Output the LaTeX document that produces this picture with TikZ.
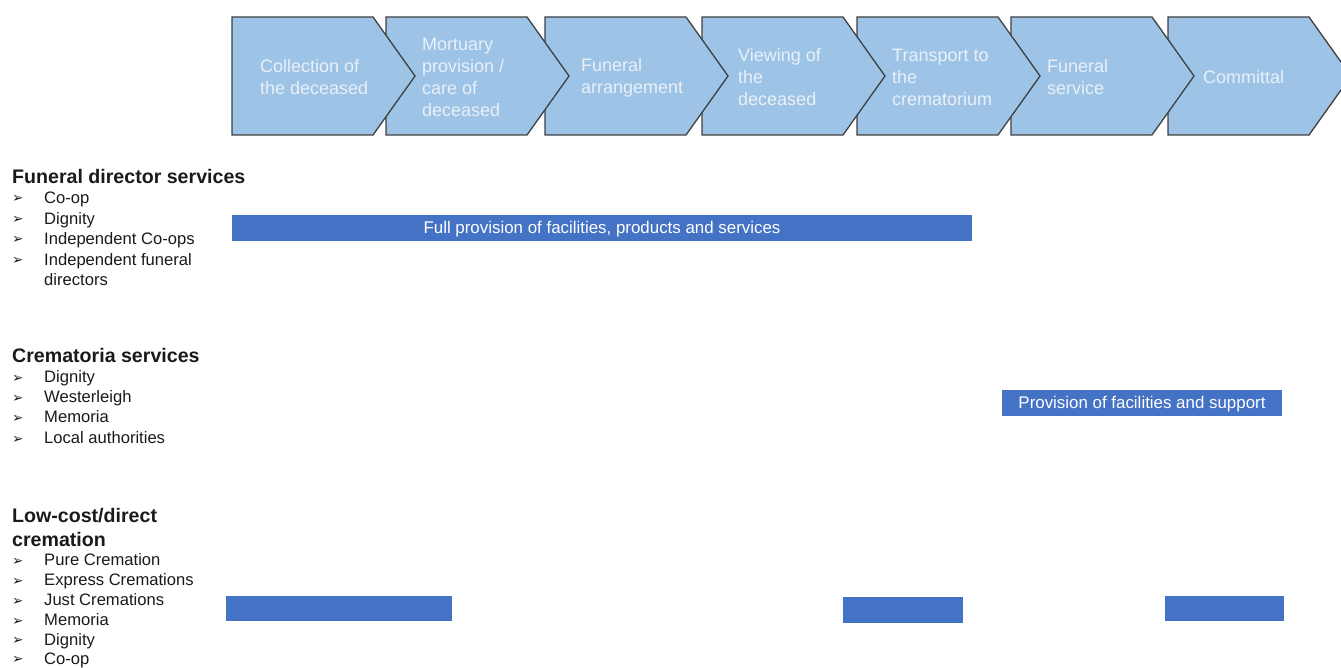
\documentclass[tikz,border=0pt]{standalone}
\usepackage{fontspec}
\setmainfont{Liberation Sans}
\newfontfamily\dejavu{DejaVu Sans}
\definecolor{chevfill}{HTML}{9DC3E6}
\definecolor{chevline}{HTML}{404040}
\definecolor{barblue}{HTML}{4472C4}
\definecolor{chevtext}{HTML}{EAF0F7}
\definecolor{bodytext}{HTML}{1A1A1A}
\begin{document}
\begin{tikzpicture}[x=1pt,y=-1pt,
  chev/.style={fill=chevfill,draw=chevline,line width=1.3pt,line join=miter},
  chevlabel/.style={anchor=west,align=left,text=chevtext,font=\fontsize{18}{22}\selectfont,inner sep=0pt},
  bar/.style={fill=barblue,draw=none,text=white,font=\fontsize{16.9}{20}\selectfont,inner sep=0pt,text height=14pt,text depth=2pt},
  heading/.style={anchor=base west,font=\bfseries\fontsize{19.6}{24}\selectfont,text=bodytext,inner sep=0pt},
  item/.style={anchor=base west,font=\fontsize{16.6}{20}\selectfont,text=bodytext,inner sep=0pt},
  bulletmark/.style={anchor=base west,font=\dejavu\bfseries\fontsize{13.5}{15}\selectfont,text=bodytext,inner sep=0pt}]
\useasboundingbox (0,0) rectangle (1341,668);
% chevrons, drawn right to left so each point lies over the next one
\foreach \x in {1168,1011,857,702,545,386,232}{
  \draw[chev] (\x,17) -- ++(141,0) -- ++(42,59) -- ++(-42,59) -- ++(-141,0) -- cycle;
}
\node[chevlabel] (c1) at (260,77.5) {Collection of\\the deceased};
\node[chevlabel] (c2) at (422,77.5) {Mortuary\\provision /\\care of\\deceased};
\node[chevlabel] (c3) at (581,77.5) {Funeral\\arrangement};
\node[chevlabel] (c4) at (738,77.5) {Viewing of\\the\\deceased};
\node[chevlabel] (c5) at (892,77.5) {Transport to\\the\\crematorium};
\node[chevlabel] (c6) at (1047,77.5) {Funeral\\service};
\node[chevlabel] (c7) at (1203,77.5) {Committal};
% bars
\node[bar,minimum width=740pt,minimum height=26pt] (b1) at (602,228) {Full provision of facilities, products and services};
\node[bar,minimum width=280pt,minimum height=26pt] (b2) at (1142,402.5) {Provision of facilities and support};
\node[bar,minimum width=226pt,minimum height=25pt] (b3) at (339,608.5) {};
\node[bar,minimum width=120pt,minimum height=26pt] (b4) at (903,610) {};
\node[bar,minimum width=119pt,minimum height=25pt] (b5) at (1224.5,608.5) {};
% left lists
\node[heading] (h1) at (12,184) {Funeral director services};
\foreach \n/\y/\t in {a/203.5/Co-op,b/224.5/Dignity,c/244.5/Independent Co-ops,d/265.5/Independent funeral}{
  \node[bulletmark] (fb\n) at (12,\y-0.5) {➢};
  \node[item] (fi\n) at (44,\y) {\t};
}
\node[item] (fie) at (44,285.5) {directors};
\node[heading] (h2) at (12,362) {Crematoria services};
\foreach \n/\y/\t in {a/382.5/Dignity,b/402.5/Westerleigh,c/422.5/Memoria,d/443.5/Local authorities}{
  \node[bulletmark] (cb\n) at (12,\y-0.5) {➢};
  \node[item] (ci\n) at (44,\y) {\t};
}
\node[heading] (h3) at (12,522) {Low-cost/direct};
\node[heading] (h3b) at (12,546) {cremation};
\foreach \n/\y/\t in {a/565.5/Pure Cremation,b/585.5/Express Cremations,c/605.5/Just Cremations,d/625.5/Memoria,e/645/Dignity,f/664.3/Co-op}{
  \node[bulletmark] (lb\n) at (12,\y-0.5) {➢};
  \node[item] (li\n) at (44,\y) {\t};
}
\end{tikzpicture}
\end{document}
